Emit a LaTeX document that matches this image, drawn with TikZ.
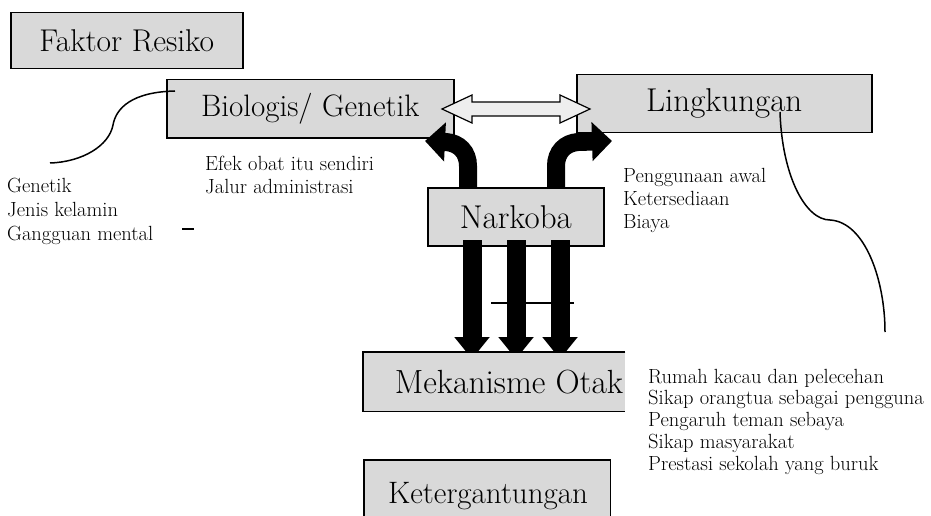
\documentclass[tikz,border=0pt]{standalone}
\usepackage{fontspec}
\usetikzlibrary{arrows.meta}

\definecolor{boxgray}{HTML}{D9D9D9}
\definecolor{lightarrow}{HTML}{EEEEEE}

\tikzset{
  box/.style={draw=black, line width=1.5pt, fill=boxgray, inner sep=0pt, anchor=north west},
  boxfill/.style={fill=boxgray, inner sep=0pt, anchor=north west},
  bigtext/.style={font=\fontsize{33}{36}\selectfont},
  smalltext/.style={font=\fontsize{20.5}{#1}\selectfont},
  listtext/.style={align=left, anchor=base west, inner sep=0pt},
  bendarrow/.style={draw=black, line width=18pt, -{Triangle[length=20pt, width=38pt]}},
  downarrow/.style={draw=black, line width=19pt, -{Triangle[length=22pt, width=34pt]}},
  link/.style={draw=black, line width=1.5pt},
}

\begin{document}
\begin{tikzpicture}[x=1pt, y=-1pt]
  \useasboundingbox (0,0) rectangle (931,516);

  % boxes of the upper row
  \node[box, font=\fontsize{31.5}{34}\selectfont, minimum width=232pt, minimum height=56pt] (faktor) at (10,12) {Faktor Resiko\hspace{14pt}};
  \node[box, font=\fontsize{31}{34}\selectfont, minimum width=287pt, minimum height=58pt] (bio) at (166,79) {Biologis/ Genetik};
  \node[box, bigtext, minimum width=295pt, minimum height=58pt] (ling) at (576,74) {Lingkungan};

  % two-headed link between the two factor boxes
  \draw[line width=1.2pt, fill=lightarrow]
    (442,109) -- (472,95) -- (472,102) -- (560,102) -- (560,95) -- (590,109)
    -- (560,123) -- (560,116) -- (472,116) -- (472,123) -- cycle;

  % curved arrows rising from the drug box
  \coordinate (lbase) at (468,200);
  \coordinate (ltip) at (425,141);
  \coordinate (rbase) at (556,200);
  \coordinate (rtip) at (612,141);
  \draw[bendarrow] (lbase) -- (468,166) .. controls (468,152) and (459,143) .. (446,142) -- (ltip);
  \draw[bendarrow] (rbase) -- (556,166) .. controls (556,152) and (565,143) .. (578,142) -- (rtip);

  % drug box
  \node[box, bigtext, minimum width=176pt, minimum height=58pt] (narkoba) at (427,187) {Narkoba};

  % three arrows down to the brain box
  \coordinate (d1) at (472,359);
  \coordinate (d2) at (516,359);
  \coordinate (d3) at (560,359);
  \draw[downarrow] (472,240) -- (d1);
  \draw[downarrow] (516,240) -- (d2);
  \draw[downarrow] (560,240) -- (d3);
  \draw[line width=1.2pt] (491,303) -- (574,303);

  % brain mechanism box (open on the right)
  \node[boxfill, minimum width=262pt, minimum height=59pt] (otak) at (363,352) {};
  \draw[line width=1.5pt] (otak.north east) -- (otak.north west) -- (otak.south west) -- (otak.south east);
  \node[font=\fontsize{33.5}{36}\selectfont, inner sep=0pt, anchor=base] (otaktext) at (509,393) {Mekanisme Otak};

  % dependence box, running off the bottom edge
  \node[boxfill, minimum width=246pt, minimum height=70pt] (keter) at (364,460) {};
  \draw[line width=1.5pt] (keter.south west) -- (keter.north west) -- (keter.north east) -- (keter.south east);
  \node[font=\fontsize{31}{34}\selectfont, inner sep=0pt, anchor=base] (ketertext) at (488,503) {Ketergantungan};

  % factor lists (anchored on the baseline of their last line)
  \node[listtext, smalltext=24] (genlist) at (7,240)
    {Genetik\\Jenis kelamin\\Gangguan mental};
  \node[listtext, smalltext=23] (efek) at (205,193)
    {Efek obat itu sendiri\\Jalur administrasi};
  \node[listtext, smalltext=23] (awal) at (623,228)
    {Penggunaan awal\\Ketersediaan\\Biaya};
  \node[listtext, smalltext=21.7] (rumah) at (648,470)
    {Rumah kacau dan pelecehan\\Sikap orangtua sebagai pengguna\\Pengaruh teman sebaya\\Sikap masyarakat\\Prestasi sekolah yang buruk};

  % curved links from the boxes to their lists
  \coordinate (bioend) at (175,91);
  \coordinate (genend) at (50,163);
  \draw[link] (bioend) .. controls (132,92) and (116,108) .. (113,125)
    .. controls (109,146) and (82,162) .. (genend);
  \coordinate (lingend) at (780,112);
  \coordinate (rumahend) at (885,332);
  \draw[link] (lingend) .. controls (782,175) and (805,220) .. (830,220)
    .. controls (865,222) and (885,280) .. (rumahend);

  % short stray dash
  \coordinate (dashA) at (182,229);
  \coordinate (dashB) at (194,229);
  \draw[line width=2pt] (dashA) -- (dashB);
\end{tikzpicture}
\end{document}
